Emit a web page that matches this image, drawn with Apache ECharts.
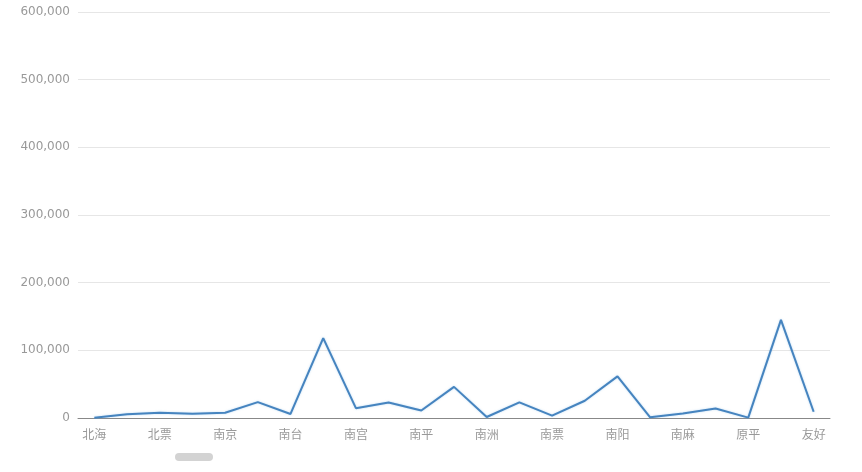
<!DOCTYPE html>
<html>
<head>
<meta charset="utf-8">
<script src="https://cdn.jsdelivr.net/npm/echarts@6/dist/echarts.min.js"></script>
<style>html,body{margin:0;padding:0;background:#fff}#c{width:862px;height:472px}</style>
</head>
<body>
<div id="c"></div>
<script>
const categories = ['北海','北流','北票','南丰','南京','南充','南台','南安','南宫','南岔','南平','南康','南洲','南溪','南票','南通','南阳','南雄','南麻','博乐','原平','双辽','友好'];
const values = [500,5500,7800,6300,7800,23500,6000,118000,14500,23000,11000,46000,1500,23000,3500,25500,61500,1000,6500,14000,500,145000,9200];
const yTicks = { min: 0, max: 600000, interval: 100000 };

const chart = echarts.init(document.getElementById('c'));
chart.setOption({
  animation: false,
  grid: { left: 78, right: 32, top: 12, bottom: 54 },
  xAxis: {
    type: 'category',
    data: categories,
    boundaryGap: true,
    axisLine: { lineStyle: { color: '#888' } },
    axisTick: { alignWithLabel: true, interval: 1, lineStyle: { color: '#bbb' }, length: 4 },
    axisLabel: { interval: 1, color: '#999', fontSize: 12, margin: 10, fontFamily: 'Noto Sans CJK SC, sans-serif' }
  },
  yAxis: {
    type: 'value',
    min: yTicks.min, max: yTicks.max, interval: yTicks.interval,
    axisLine: { show: false },
    axisTick: { show: false },
    axisLabel: { color: '#999', fontSize: 12, margin: 8, fontFamily: 'DejaVu Sans, sans-serif',
      formatter: v => v.toLocaleString('en-US') },
    splitLine: { lineStyle: { color: '#e6e6e6' } }
  },
  series: [{
    type: 'line',
    data: values,
    showSymbol: false,
    symbol: 'none',
    lineStyle: { color: '#4684bf', width: 2, shadowColor: 'rgba(120,180,230,0.5)', shadowBlur: 2 }
  }],
  graphic: [{
    type: 'rect',
    left: 175, top: 453,
    shape: { width: 38, height: 8, r: 4 },
    style: { fill: '#d3d3d3' }
  }]
});
</script>
</body>
</html>
